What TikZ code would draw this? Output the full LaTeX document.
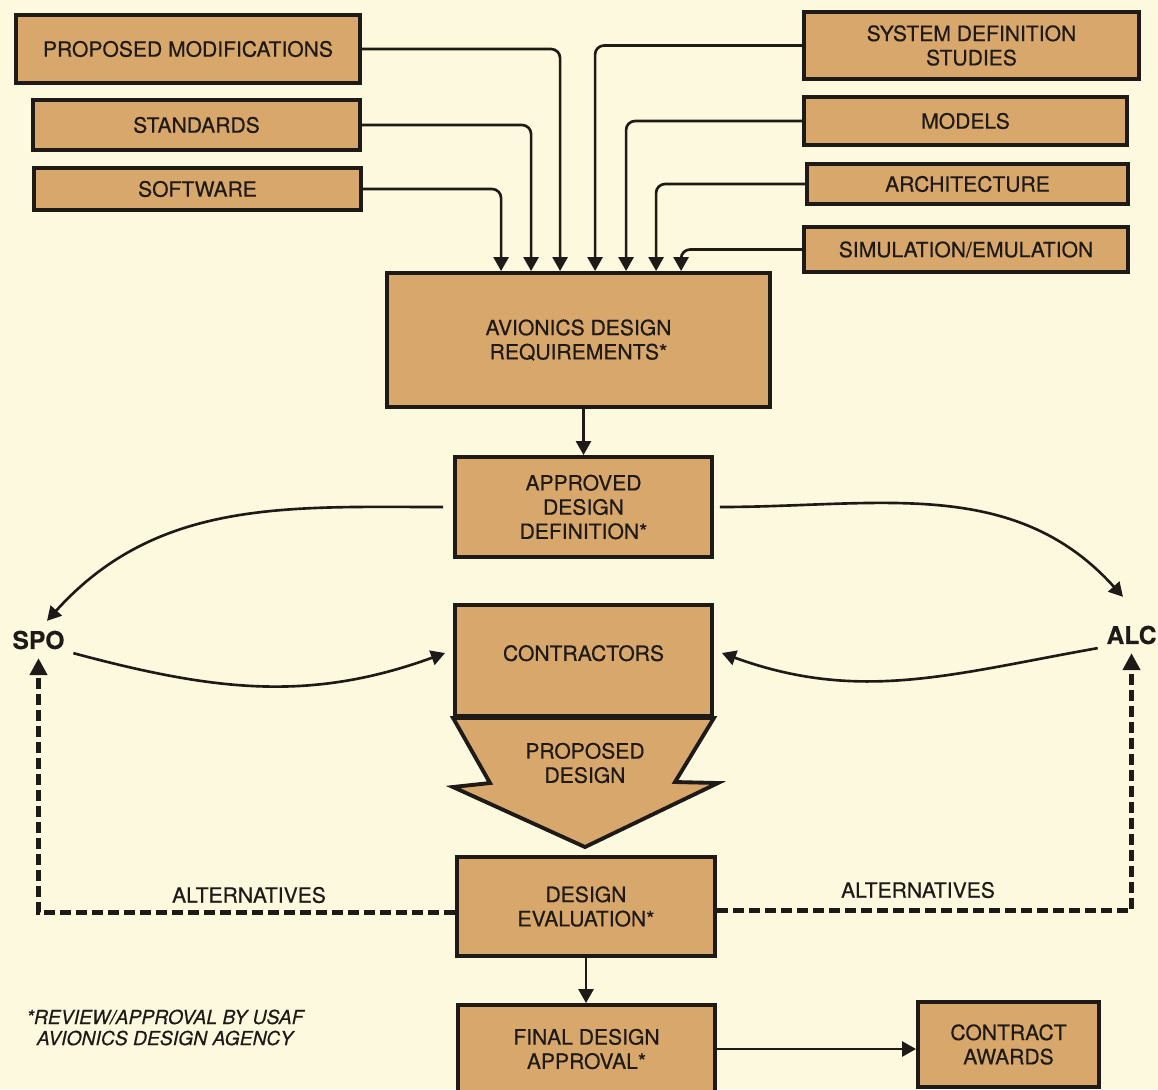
\documentclass[tikz,border=0pt]{standalone}
\usepackage{fontspec}
\setmainfont{TeX Gyre Heros}[FakeBold=0.4]
\usetikzlibrary{arrows.meta,positioning,calc}
\definecolor{paper}{RGB}{253,249,222}
\definecolor{tanfill}{RGB}{216,167,108}
\definecolor{inkdark}{RGB}{30,26,24}

\begin{document}
\begin{tikzpicture}[font=\fontsize{12}{13.8}\selectfont,color=inkdark,
 tanshape/.style={draw=inkdark,fill=tanfill,line width=2.2pt},
 box/.style={tanshape,align=center,inner sep=0pt},
 arr/.style={-{Triangle[length=2.8mm,width=3mm]},line width=1.5pt,draw=inkdark},
 feed/.style={arr,rounded corners=0.18cm},
 alt/.style={-{Triangle[length=3.4mm,width=3.4mm]},line width=2.6pt,dash pattern=on 0.22cm off 0.1cm,shorten >=1mm},
 agency/.style={font=\fontsize{14}{16}\selectfont\bfseries,inner sep=2pt}]
\useasboundingbox (0,0) rectangle (23.16,-21.78);
\clip (0,0) rectangle (23.16,-21.78);
\fill[paper] (0,0) rectangle (23.16,-21.78);
% inputs, left column
\node[box,minimum width=6.88cm,minimum height=1.36cm] (propmod) at (3.76,-0.98) {PROPOSED MODIFICATIONS};
\node[box,minimum width=6.54cm,minimum height=1.00cm] (standards) at (3.93,-2.50) {STANDARDS};
\node[box,minimum width=6.54cm,minimum height=0.84cm] (software) at (3.95,-3.78) {SOFTWARE};
% inputs, right column
\node[box,minimum width=6.70cm,minimum height=1.34cm] (sysdef) at (19.43,-0.91) {SYSTEM DEFINITION\\STUDIES};
\node[box,minimum width=6.46cm,minimum height=0.96cm] (models) at (19.31,-2.42) {MODELS};
\node[box,minimum width=6.42cm,minimum height=0.80cm] (arch) at (19.35,-3.68) {ARCHITECTURE};
\node[box,minimum width=6.48cm,minimum height=0.90cm] (simul) at (19.32,-4.99) {SIMULATION/EMULATION};
% main column
\node[box,minimum width=7.66cm,minimum height=2.68cm] (reqs) at (11.57,-6.80) {AVIONICS DESIGN\\REQUIREMENTS*};
\node[box,minimum width=5.14cm,minimum height=2.00cm] (approved) at (11.67,-10.14) {APPROVED\\DESIGN\\DEFINITION*};
\node[box,minimum width=5.14cm,minimum height=2.22cm,text depth=0.3cm] (contractors) at (11.67,-13.21) {CONTRACTORS};
\draw[tanshape] (contractors.south west) -- (9.80,-15.66) -- (9.06,-15.74) -- (11.70,-16.94)
  -- (14.36,-15.66) -- (13.50,-15.64) -- (contractors.south east) -- cycle;
\node[align=center] (propdesign) at (11.70,-15.26) {PROPOSED\\DESIGN};
\node[box,minimum width=5.16cm,minimum height=1.98cm] (evaluation) at (11.72,-18.13) {DESIGN\\EVALUATION*};
\node[box,minimum width=5.14cm,minimum height=1.76cm] (final) at (11.73,-20.98) {FINAL DESIGN\\APPROVAL*};
\node[box,minimum width=3.62cm,minimum height=1.70cm] (awards) at (20.17,-20.89) {CONTRACT\\AWARDS};
% agencies
\node[agency] (spo) at (0.77,-12.80) {SPO};
\node[agency] (alc) at (22.63,-12.70) {ALC};
\node (altleft) at (4.98,-17.90) {ALTERNATIVES};
\node (altright) at (18.36,-17.80) {ALTERNATIVES};
\node[font=\fontsize{11}{12}\selectfont\itshape,align=center] (note) at (3.30,-20.55) {*REVIEW/APPROVAL BY USAF\\AVIONICS DESIGN AGENCY};
% connectors
\foreach \src/\dx in {software/2.32,standards/2.92,propmod/3.50,sysdef/4.20,models/4.82,arch/5.42,simul/5.92}
  \draw[feed] (\src) -| ($(reqs.north west)+(\dx,0)$);
\draw[arr] (approved.north |- reqs.south) -- (approved.north);
\draw[arr] (evaluation.south) -- (evaluation.south |- final.north);
\draw[arr] (final.east) -- (final.east -| awards.west);
\draw[arr,shorten <=0.2cm] (approved.west) to[out=180,in=48] ($(spo.north)+(0.17,0.12)$);
\draw[arr,shorten <=0.12cm] (approved.east) to[out=0,in=132] ($(alc.north)+(-0.17,0.5)$);
\draw[arr] ([xshift=0.1cm]spo.south east) to[out=-15,in=200] ($(contractors.west)+(-0.16,0.15)$);
\draw[arr] ([xshift=-0.1cm]alc.south west) to[out=190,in=-20] ($(contractors.east)+(0.16,0.15)$);
\draw[alt] ([yshift=-0.12cm]evaluation.west) -| (spo.south);
\draw[alt] ([yshift=-0.08cm]evaluation.east) -| (alc.south);
\end{tikzpicture}
\end{document}
